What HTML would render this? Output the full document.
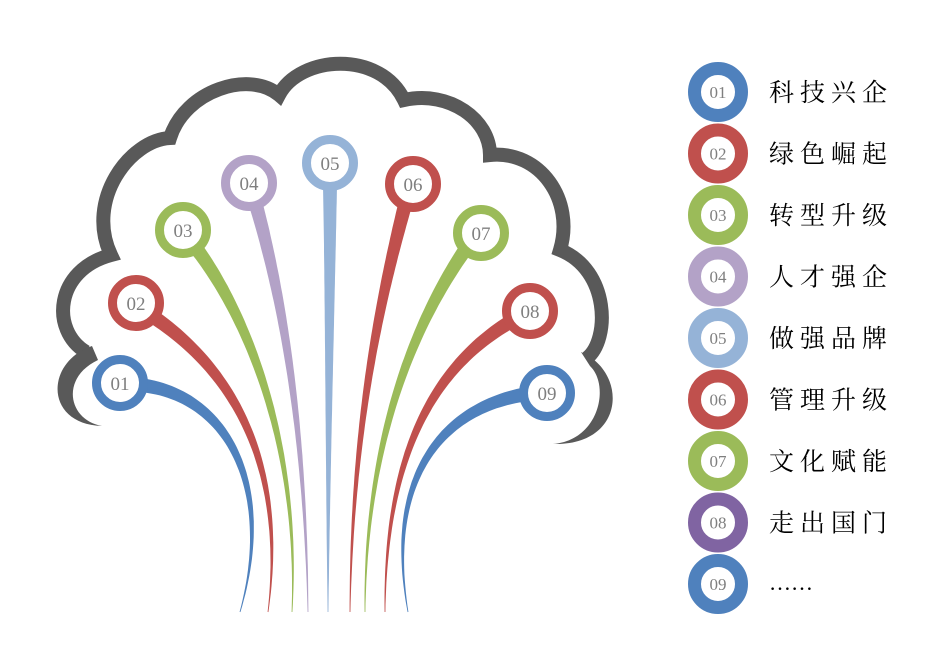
<!DOCTYPE html>
<html><head><meta charset="utf-8"><style>
html,body{margin:0;padding:0;background:#fff;}
svg{display:block}
</style></head><body>
<svg id="s" width="946" height="667" viewBox="0 0 946 667" xmlns="http://www.w3.org/2000/svg">
<path d="M86,352 C50,330 55,270 111,255 C85,200 130,140 170,138 C185,90 250,70 279,95 C300,55 380,50 404,100 C450,90 490,120 490,155 C540,150 575,200 560,250 C610,270 610,340 587,358" fill="none" stroke="#595959" stroke-width="14" stroke-linejoin="miter"/>
<path d="M92,346 C45,362 44,424 102,426 C68,420 60,378 98,360 Z" fill="#595959"/>
<path d="M581,352 C628,372 626,446 553,444 C600,440 610,385 590,366 Z" fill="#595959"/>
<g id="stems"></g>
<g id="circles" font-family="Liberation Serif, serif" font-size="19" fill="#7f7f7f" text-anchor="middle"></g>
<g id="legend"></g>
</svg>
<script>
var NS="http://www.w3.org/2000/svg";
var B="#4f81bd",R="#c0504d",G="#9bbb59",P="#b3a2c7",L="#95b3d7",V="#8064a2";
var stems=[
[B,[140,385],[230,395],[275,490],[240,612],120,383,"01"],
[R,[155,318],[245,380],[285,480],[268,612],136,303,"02"],
[G,[196,248],[250,320],[300,450],[292,612],183,230,"03"],
[P,[256,205],[280,290],[305,420],[308,612],249,183,"04"],
[L,[330,185],[330,300],[328,450],[328,612],330,163,"05"],
[R,[405,205],[380,300],[352,430],[350,612],413,184,"06"],
[G,[465,250],[410,330],[365,450],[365,612],481,233,"07"],
[R,[510,322],[430,370],[385,460],[385,612],530,311,"08"],
[B,[522,395],[440,410],[385,480],[408,612],547,393,"09"]];
function bz(a,b,c,d,t){var u=1-t;return u*u*u*a+3*u*u*t*b+3*u*t*t*c+t*t*t*d;}
function dbz(a,b,c,d,t){var u=1-t;return 3*u*u*(b-a)+6*u*t*(c-b)+3*t*t*(d-c);}
var sg=document.getElementById("stems"),cg=document.getElementById("circles");
stems.forEach(function(s){
 var p0=s[1],p1=s[2],p2=s[3],p3=s[4],L1=[],L2=[];
 for(var i=0;i<=60;i++){var t=i/60;
  var x=bz(p0[0],p1[0],p2[0],p3[0],t),y=bz(p0[1],p1[1],p2[1],p3[1],t);
  var dx=dbz(p0[0],p1[0],p2[0],p3[0],t),dy=dbz(p0[1],p1[1],p2[1],p3[1],t);
  var l=Math.hypot(dx,dy)||1,nx=-dy/l,ny=dx/l,w=(14*(1-t)+0.8*t)/2;
  L1.push((x+nx*w).toFixed(1)+","+(y+ny*w).toFixed(1));
  L2.unshift((x-nx*w).toFixed(1)+","+(y-ny*w).toFixed(1));}
 var pg=document.createElementNS(NS,"polygon");pg.setAttribute("points",L1.concat(L2).join(" "));pg.setAttribute("fill",s[0]);sg.appendChild(pg);
 var c=document.createElementNS(NS,"circle");c.setAttribute("cx",s[5]);c.setAttribute("cy",s[6]);c.setAttribute("r",23.5);c.setAttribute("fill","#fff");c.setAttribute("stroke",s[0]);c.setAttribute("stroke-width",9);cg.appendChild(c);
 var tx=document.createElementNS(NS,"text");tx.setAttribute("x",s[5]);tx.setAttribute("y",s[6]+7);tx.textContent=s[7];cg.appendChild(tx);
});
var lg=document.getElementById("legend");
var items=[[B,"科技兴企"],[R,"绿色崛起"],[G,"转型升级"],[P,"人才强企"],[L,"做强品牌"],[R,"管理升级"],[G,"文化赋能"],[V,"走出国门"],[B,"……"]];
items.forEach(function(it,i){
 var y=92+i*61.5;
 var c=document.createElementNS(NS,"circle");c.setAttribute("cx",718);c.setAttribute("cy",y);c.setAttribute("r",23.5);c.setAttribute("fill","#fff");c.setAttribute("stroke",it[0]);c.setAttribute("stroke-width",13);lg.appendChild(c);
 var t=document.createElementNS(NS,"text");t.setAttribute("x",718);t.setAttribute("y",y+6);t.setAttribute("text-anchor","middle");t.setAttribute("font-family","Liberation Serif, serif");t.setAttribute("font-size","17");t.setAttribute("fill","#7f7f7f");t.textContent=String(i+1).padStart(2,"0");lg.appendChild(t);
 var t2=document.createElementNS(NS,"text");t2.setAttribute("x",769);t2.setAttribute("y",y+(i==8?6:9));t2.setAttribute("font-family","Liberation Serif, 'Noto Serif CJK SC', serif");t2.setAttribute("font-size",i==8?"22":"25");t2.setAttribute("letter-spacing",i==8?"0":"6");t2.setAttribute("fill","#000");t2.textContent=it[1];lg.appendChild(t2);
});
</script>
</body></html>
